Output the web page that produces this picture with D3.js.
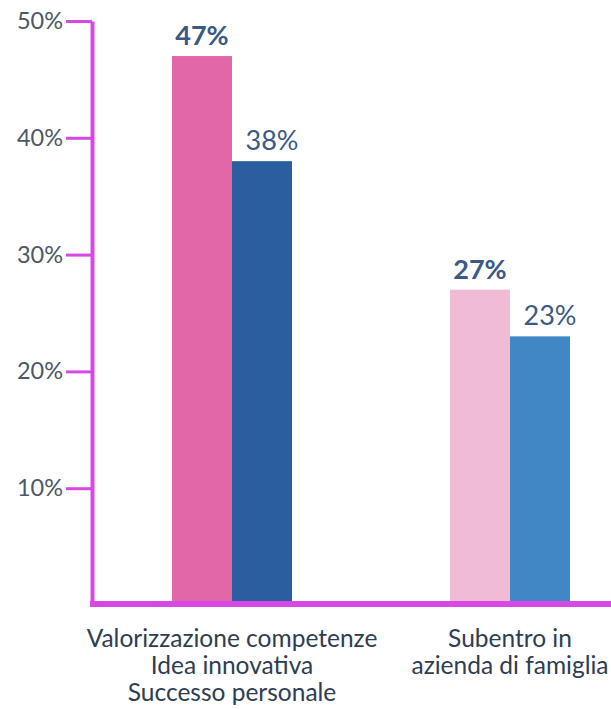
<!DOCTYPE html>
<html>
<head>
<meta charset="utf-8">
<script src="https://cdn.jsdelivr.net/npm/d3@7"></script>
<style>
  body { margin: 0; background: #fff; }
  svg { display: block; font-family: Lato, "Noto Sans", sans-serif; }
</style>
</head>
<body>
<svg></svg>
<script>
var categories = ["valorizzazione", "subentro"];
var categoryLines = [
    ["Valorizzazione competenze", "Idea innovativa", "Successo personale"],
    ["Subentro in", "azienda di famiglia"]
];
var seriesNames = ["a", "b"];
var seriesA = [47, 27];
var seriesB = [38, 23];
var colorsA = ["#e267a8", "#f0bcd5"];
var colorsB = ["#2b5e9f", "#3f88c5"];
var yTicks = [10, 20, 30, 40, 50];

var WIDTH = 611;
var HEIGHT = 709;
var AXIS_COLOR = "#d848e4";
var BAR_WIDTH = 60;

var svg = d3.select("svg")
    .attr("width", WIDTH)
    .attr("height", HEIGHT);

var y = d3.scaleLinear()
    .domain([0, 50])
    .range([605, 21]);

var x = d3.scalePoint()
    .domain(categories)
    .range([232, 510]);

var xSub = d3.scaleBand()
    .domain(seriesNames)
    .range([-BAR_WIDTH, BAR_WIDTH]);

var rows = categories.map(function(c, i)
{
    return {
        key: c,
        i: i,
        values: [
            { s: "a", v: seriesA[i], color: colorsA[i], bold: true },
            { s: "b", v: seriesB[i], color: colorsB[i], bold: false }
        ]
    };
});

// bars
var groups = svg.append("g")
    .selectAll("g")
    .data(rows)
    .enter().append("g")
    .attr("transform", function(d) { return "translate(" + x(d.key) + ",0)"; });

groups.selectAll("rect")
    .data(function(d) { return d.values; })
    .enter().append("rect")
    .attr("x", function(d) { return xSub(d.s); })
    .attr("width", xSub.bandwidth())
    .attr("y", function(d) { return y(d.v); })
    .attr("height", function(d) { return y(0) - y(d.v); })
    .attr("fill", function(d) { return d.color; });

groups.selectAll("text.value")
    .data(function(d) { return d.values; })
    .enter().append("text")
    .attr("class", "value")
    .attr("x", function(d) { return xSub(d.s) + xSub.bandwidth() / 2 + (d.bold ? 0 : 10); })
    .attr("y", function(d) { return y(d.v) - 11; })
    .attr("text-anchor", "middle")
    .attr("font-size", 27)
    .attr("font-weight", function(d) { return d.bold ? 700 : 400; })
    .attr("fill", "#3a5983")
    .text(function(d) { return d.v + "%"; });

// y axis
var yAxis = svg.append("g")
    .attr("transform", "translate(92,0)")
    .call(d3.axisLeft(y)
          .tickValues(yTicks)
          .tickSize(26)
          .tickSizeOuter(0)
          .tickPadding(3)
          .tickFormat(function(d) { return d + "%"; }));

yAxis.select(".domain")
    .attr("stroke", AXIS_COLOR)
    .attr("stroke-width", 4);
yAxis.selectAll(".tick line")
    .attr("stroke", AXIS_COLOR)
    .attr("stroke-width", 3);
yAxis.selectAll(".tick text")
    .attr("font-size", 23.5)
    .attr("font-family", "Lato, sans-serif")
    .attr("fill", "#4d5866");

// x axis line
svg.append("line")
    .attr("x1", 90)
    .attr("x2", WIDTH)
    .attr("y1", y(0) - 1)
    .attr("y2", y(0) - 1)
    .attr("stroke", AXIS_COLOR)
    .attr("stroke-width", 6);

// category labels
var catLabels = svg.append("g")
    .selectAll("text")
    .data(rows)
    .enter().append("text")
    .attr("x", function(d) { return x(d.key); })
    .attr("y", 647)
    .attr("text-anchor", "middle")
    .attr("font-size", 24.5)
    .attr("fill", "#2e3d52");

catLabels.selectAll("tspan")
    .data(function(d) { return categoryLines[d.i]; })
    .enter().append("tspan")
    .attr("x", function() { return x(d3.select(this.parentNode).datum().key); })
    .attr("dy", function(d, i) { return i == 0 ? 0 : 27; })
    .text(function(d) { return d; });
</script>
</body>
</html>
